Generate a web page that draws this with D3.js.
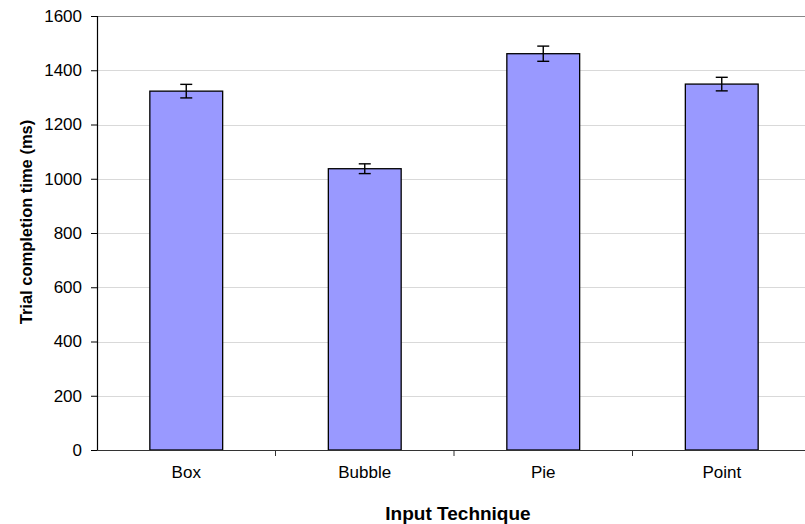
<!DOCTYPE html>
<html>
<head>
<meta charset="utf-8">
<script src="https://cdn.jsdelivr.net/npm/d3@7"></script>
<style>
  body { margin: 0; background: #fff; }
  svg { display: block; font-family: "Liberation Sans", Arial, sans-serif; }
</style>
</head>
<body>
<svg id="chart" width="805" height="524"></svg>
<script>
const BAR_FILL = "#9999ff";
const GRID = "#d9d9d9";
const FONT = "Liberation Sans, Arial, sans-serif";

// data
var techniques = ["Box", "Bubble", "Pie", "Point"];
var meanTimes = [1323, 1037, 1461, 1349];
var errors = [25, 18, 28, 25];
var yTicks = [0, 200, 400, 600, 800, 1000, 1200, 1400, 1600];

var data = techniques.map(function(t, i) {
  return { name: t, value: meanTimes[i], err: errors[i] };
});

var svg = d3.select("#chart"),
  margin = { top: 16, right: -6, bottom: 74, left: 97 },
  width = +svg.attr("width") - margin.left - margin.right,
  height = +svg.attr("height") - margin.top - margin.bottom,
  g = svg
    .append("g")
    .attr("transform", "translate(" + margin.left + "," + margin.top + ")");

var x = d3.scaleBand().domain(techniques).range([0, width]).paddingInner(0).paddingOuter(0);
var y = d3.scaleLinear().domain([0, 1600]).range([height, 0]);

var barW = x.bandwidth() * 0.408;

// gridlines
g.append("g")
  .selectAll("line")
  .data(yTicks.filter(function(d) { return d > 0; }))
  .enter()
  .append("line")
  .attr("x1", 0)
  .attr("x2", width)
  .attr("y1", function(d) { return Math.round(y(d)) + 0.5; })
  .attr("y2", function(d) { return Math.round(y(d)) + 0.5; })
  .attr("stroke", function(d) { return d === 1600 ? "#888" : GRID; })
  .attr("stroke-width", 1.2);

// bars
g.append("g")
  .selectAll("rect")
  .data(data)
  .enter()
  .append("rect")
  .attr("x", function(d) { return x(d.name) + (x.bandwidth() - barW) / 2; })
  .attr("y", function(d) { return y(d.value); })
  .attr("width", barW)
  .attr("height", function(d) { return height - y(d.value); })
  .attr("fill", BAR_FILL)
  .attr("stroke", "#000")
  .attr("stroke-width", 1.3);

// error bars
var eb = g.append("g").selectAll("g").data(data).enter().append("g")
  .attr("stroke", "#000")
  .attr("stroke-width", 1.4);
eb.append("line")
  .attr("x1", function(d) { return x(d.name) + x.bandwidth() / 2; })
  .attr("x2", function(d) { return x(d.name) + x.bandwidth() / 2; })
  .attr("y1", function(d) { return y(d.value + d.err); })
  .attr("y2", function(d) { return y(d.value - d.err); });
eb.selectAll("line.cap")
  .data(function(d) { return [[d, d.value + d.err], [d, d.value - d.err]]; })
  .enter()
  .append("line")
  .attr("class", "cap")
  .attr("x1", function(p) { return x(p[0].name) + x.bandwidth() / 2 - 6; })
  .attr("x2", function(p) { return x(p[0].name) + x.bandwidth() / 2 + 6; })
  .attr("y1", function(p) { return y(p[1]); })
  .attr("y2", function(p) { return y(p[1]); });

// y axis
var yAxis = g.append("g")
  .call(d3.axisLeft(y).tickValues(yTicks).tickFormat(d3.format("d")).tickSize(6).tickPadding(9));
yAxis.select(".domain").attr("stroke", "#000").attr("stroke-width", 1.2);
yAxis.selectAll(".tick line").attr("stroke", "#000");
yAxis.selectAll("text")
  .attr("font-size", 17)
  .attr("fill", "#000")
  .attr("font-family", FONT);

// x axis: ticks on band boundaries
var xAxis = g.append("g").attr("transform", "translate(0," + height + ")");
xAxis.append("line")
  .attr("x1", 0).attr("x2", width)
  .attr("y1", 0.5).attr("y2", 0.5)
  .attr("stroke", "#333").attr("stroke-width", 1.2);
xAxis.selectAll("line.tick")
  .data(techniques.slice(1))
  .enter()
  .append("line")
  .attr("class", "tick")
  .attr("x1", function(d) { return x(d); })
  .attr("x2", function(d) { return x(d); })
  .attr("y1", 0).attr("y2", 6)
  .attr("stroke", "#333");
xAxis.selectAll("text")
  .data(techniques)
  .enter()
  .append("text")
  .attr("x", function(d) { return x(d) + x.bandwidth() / 2; })
  .attr("y", 28)
  .attr("text-anchor", "middle")
  .attr("font-size", 17)
  .attr("font-family", FONT)
  .text(function(d) { return d; });

// axis titles
svg.append("text")
  .attr("transform", "translate(32,222) rotate(-90)")
  .attr("text-anchor", "middle")
  .attr("font-size", 16.5)
  .attr("font-weight", "bold")
  .text("Trial completion time (ms)");

svg.append("text")
  .attr("x", 458)
  .attr("y", 520)
  .attr("text-anchor", "middle")
  .attr("font-size", 19)
  .attr("font-weight", "bold")
  .text("Input Technique");
</script>
</body>
</html>
